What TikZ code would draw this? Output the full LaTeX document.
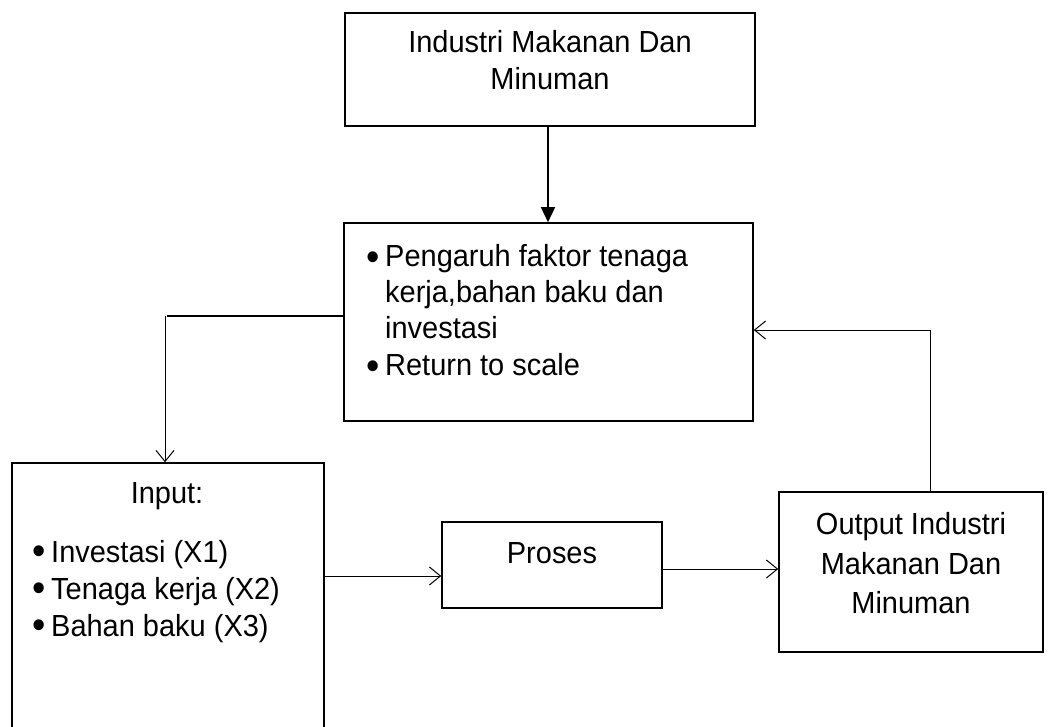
\documentclass[tikz,border=0pt]{standalone}
\usepackage{fontspec}
\setmainfont{Liberation Sans}[FakeStretch=0.95]
\usetikzlibrary{arrows.meta,calc}
\begin{document}
\begin{tikzpicture}[x=1pt,y=-1pt,
  box/.style={draw,line width=1.6pt,inner sep=0pt,rectangle},
  txt/.style={inner sep=0pt,font=\fontsize{30.5}{36}\selectfont},
  bul/.style={inner sep=0pt,anchor=base,font=\fontsize{40}{40}\selectfont},
  conn/.style={line width=1pt},
  barb/.style={-{Straight Barb[length=11pt,width=18pt,line width=1pt]}},
  tri/.style={-{Triangle[length=15pt,width=14pt]}}]
\useasboundingbox (0,0) rectangle (1055,726);
% boxes
\node[box,minimum width=410pt,minimum height=113pt] (top) at (550,69.5) {};
\node[box,minimum width=409pt,minimum height=198pt] (mid) at (548.5,322) {};
\node[box,minimum width=312pt,minimum height=300pt] (inp) at (168,613) {};
\node[box,minimum width=220pt,minimum height=86pt] (pro) at (552,565) {};
\node[box,minimum width=264pt,minimum height=160pt] (out) at (911,572) {};
% texts
\node[txt,anchor=base] (t1) at (550,52) {Industri Makanan Dan};
\node[txt,anchor=base] (t2) at (550,89) {Minuman};
\node[bul] (m0) at (373,270.5) {•};
\node[txt,anchor=base west] (m1) at (385,266) {Pengaruh faktor tenaga};
\node[txt,anchor=base west] (m2) at (385,302) {kerja,bahan baku dan};
\node[txt,anchor=base west] (m3) at (385,338) {investasi};
\node[bul] (m4) at (373,379) {•};
\node[txt,anchor=base west] (m5) at (385,375) {Return to scale};
\node[txt,anchor=base] (i0) at (167,503) {Input:};
\node[bul] (i1b) at (39,564.5) {•};
\node[txt,anchor=base west] (i1) at (51,562) {Investasi (X1)};
\node[bul] (i2b) at (39,601.5) {•};
\node[txt,anchor=base west] (i2) at (51,599) {Tenaga kerja (X2)};
\node[bul] (i3b) at (39,638.5) {•};
\node[txt,anchor=base west] (i3) at (51,636) {Bahan baku (X3)};
\node[txt,anchor=base] (p1) at (552,563) {Proses};
\node[txt,anchor=base] (o1) at (911,534) {Output Industri};
\node[txt,anchor=base] (o2) at (911,574) {Makanan Dan};
\node[txt,anchor=base] (o3) at (911,613) {Minuman};
% connectors
\coordinate (ta) at (548,0);
\draw[line width=1.5pt,tri] (ta |- top.south) -- (ta |- mid.north);
\coordinate (lh) at (167,316);
\coordinate (lv) at (165,316);
\draw[line width=1.6pt] (lh -| mid.west) -- (lh);
\draw[conn,barb] (lv) -- (lv |- inp.north);
\coordinate (ip) at (0,576);
\draw[conn,barb] (ip -| inp.east) -- (ip -| pro.west);
\coordinate (po) at (0,569);
\draw[conn,barb] (po -| pro.east) -- (po -| out.west);
\coordinate (rc) at (930,330);
\draw[conn,barb] (rc |- out.north) -- (rc) -- (rc -| mid.east);
\end{tikzpicture}
\end{document}
